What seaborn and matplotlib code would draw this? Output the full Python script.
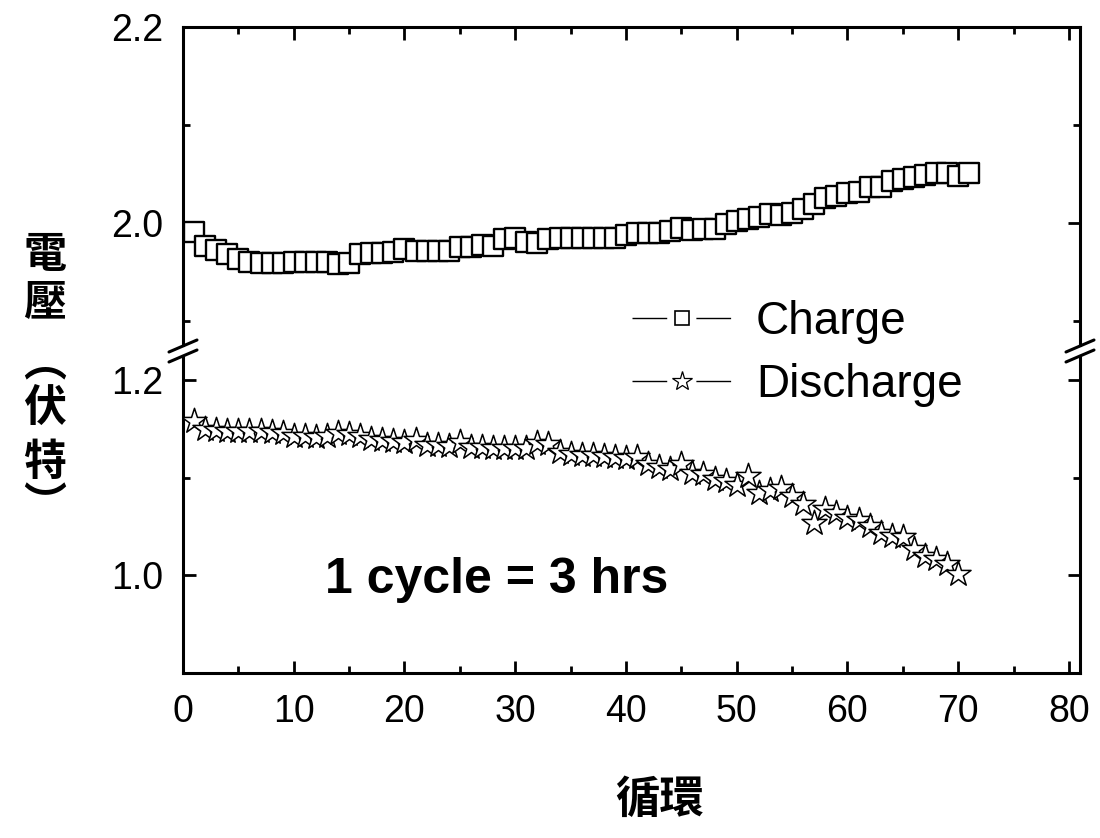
import numpy as np
import pandas as pd
import matplotlib
matplotlib.use("Agg")
import matplotlib.pyplot as plt
from matplotlib.lines import Line2D
from matplotlib.ticker import FixedLocator, MultipleLocator
import seaborn as sns

# ---------------- data ----------------
charge_cycles = list(range(1, 72))
charge_voltage = [
    1.991, 1.977, 1.972, 1.968, 1.963, 1.960, 1.959, 1.959, 1.959, 1.960,
    1.960, 1.960, 1.960, 1.958, 1.959, 1.968, 1.969, 1.969, 1.970, 1.973,
    1.971, 1.971, 1.971, 1.971, 1.975, 1.976, 1.978, 1.977, 1.984, 1.985,
    1.981, 1.980, 1.984, 1.985, 1.985, 1.985, 1.985, 1.985, 1.985, 1.988,
    1.990, 1.990, 1.990, 1.992, 1.995, 1.993, 1.994, 1.994, 1.999, 2.002,
    2.004, 2.006, 2.009, 2.008, 2.010, 2.014, 2.019, 2.025, 2.028, 2.031,
    2.032, 2.037, 2.037, 2.043, 2.045, 2.047, 2.049, 2.051, 2.051, 2.048,
    2.051,
]
discharge_cycles = list(range(1, 71))
discharge_voltage = [
    1.158, 1.150, 1.149, 1.148, 1.148, 1.148, 1.148, 1.147, 1.146, 1.143,
    1.143, 1.142, 1.143, 1.146, 1.145, 1.143, 1.140, 1.139, 1.138, 1.137,
    1.139, 1.134, 1.134, 1.133, 1.137, 1.132, 1.132, 1.131, 1.131, 1.131,
    1.131, 1.136, 1.135, 1.127, 1.125, 1.124, 1.123, 1.122, 1.121, 1.120,
    1.121, 1.114, 1.111, 1.109, 1.114, 1.105, 1.104, 1.099, 1.097, 1.093,
    1.102, 1.085, 1.088, 1.090, 1.081, 1.073, 1.054, 1.068, 1.064, 1.059,
    1.057, 1.051, 1.044, 1.040, 1.039, 1.027, 1.020, 1.017, 1.012, 1.001,
]
x_ticks = [0, 10, 20, 30, 40, 50, 60, 70, 80]
top_yticks = [2.0, 2.2]
bot_yticks = [1.0, 1.2]
series_labels = ["Charge", "Discharge"]
y_label_chars = ["電", "壓", "︵", "伏", "特", "︶"]
x_label = "循環"
note_text = "1 cycle = 3 hrs"

# ---------------- style ----------------
sns.set_style("ticks")
plt.rcParams["font.family"] = ["Liberation Sans", "Noto Sans CJK TC", "DejaVu Sans"]
plt.rcParams["text.color"] = "black"
plt.rcParams["axes.labelcolor"] = "black"
plt.rcParams["xtick.color"] = "black"
plt.rcParams["ytick.color"] = "black"
plt.rcParams["axes.edgecolor"] = "black"

W, H = 1100, 838
fig = plt.figure(figsize=(W / 100, H / 100), dpi=100)


def fx(px):
    return px / W


def fy(py):
    return 1 - py / H


L, R = 183, 1080
ax_top = fig.add_axes([fx(L), fy(345), fx(R) - fx(L), fy(27) - fy(345)])
ax_bot = fig.add_axes([fx(L), fy(673), fx(R) - fx(L), fy(356) - fy(673)])

df_c = pd.DataFrame({"cycle": charge_cycles, "V": charge_voltage})
df_d = pd.DataFrame({"cycle": discharge_cycles, "V": discharge_voltage})

sns.scatterplot(data=df_c, x="cycle", y="V", ax=ax_top, marker="s", s=190,
                color="white", edgecolor="black", linewidth=1.7, zorder=3,
                legend=False)
sns.scatterplot(data=df_d, x="cycle", y="V", ax=ax_bot, marker="*", s=360,
                color="white", edgecolor="black", linewidth=1.1, zorder=3,
                legend=False)

for ax in (ax_top, ax_bot):
    ax.set_xlim(0, 81)
    ax.set_xlabel("")
    ax.set_ylabel("")
    ax.xaxis.set_major_locator(FixedLocator(x_ticks))
    ax.xaxis.set_minor_locator(MultipleLocator(5))
    for s in ax.spines.values():
        s.set_linewidth(2.2)
        s.set_color("black")
    ax.tick_params(which="both", direction="in", width=2.0, color="black",
                   labelcolor="black", labelsize=27, right=True)
    ax.tick_params(which="major", length=9)
    ax.tick_params(which="minor", length=5)
    ax.tick_params(axis="y", pad=14)
    ax.tick_params(axis="x", pad=15)

ax_top.set_ylim(1.8755, 2.2)
ax_top.yaxis.set_major_locator(FixedLocator(top_yticks))
ax_top.yaxis.set_minor_locator(FixedLocator([1.9, 2.1]))
ax_top.spines["bottom"].set_visible(False)
ax_top.tick_params(axis="x", which="both", bottom=False, labelbottom=False, top=True)
ax_top.yaxis.set_major_formatter(plt.FuncFormatter(lambda v, p: f"{v:.1f}"))

ax_bot.set_ylim(0.9, 1.225)
ax_bot.yaxis.set_major_locator(FixedLocator(bot_yticks))
ax_bot.yaxis.set_minor_locator(FixedLocator([0.9, 1.1]))
ax_bot.spines["top"].set_visible(False)
ax_bot.tick_params(axis="x", which="both", top=False)
ax_bot.yaxis.set_major_formatter(plt.FuncFormatter(lambda v, p: f"{v:.1f}"))

# break marks
for xs in (L, R):
    for dy in (0, 10):
        fig.add_artist(Line2D([fx(xs - 14), fx(xs + 14)],
                              [fy(352 + dy), fy(340 + dy)],
                              transform=fig.transFigure, color="black", lw=2.2))

# annotation
ax_bot.text(12.8, 0.995, note_text, fontsize=36, fontweight="bold",
            ha="left", va="center", family=["Liberation Sans", "DejaVu Sans"])

# legend: line - marker - line with gaps round the marker
gap_style = (0, (25, 21, 25, 200))
handles = [
    Line2D([], [], color="black", lw=1.0, ls=gap_style, marker="s", markersize=10,
           markerfacecolor="white", markeredgecolor="black", markeredgewidth=1.2),
    Line2D([], [], color="black", lw=1.0, ls=gap_style, marker="*", markersize=15,
           markerfacecolor="white", markeredgecolor="black", markeredgewidth=0.9),
]
fig.legend(handles, series_labels, loc="upper left",
           bbox_to_anchor=(fx(632), fy(300)), frameon=False, fontsize=33,
           handlelength=2.2, handletextpad=0.5, labelspacing=0.42,
           borderpad=0, borderaxespad=0, numpoints=1)

# y label (vertical characters)
cjk = ["Noto Sans CJK TC", "DejaVu Sans"]
ys = [255, 303, 362, 408, 462, 505]
for ch, yy in zip(y_label_chars, ys):
    fig.text(fx(45), fy(yy), ch, fontsize=31, fontweight="bold",
             ha="center", va="center", family=cjk)

# x label
fig.text(fx(660), fy(800), x_label, fontsize=32, fontweight="bold",
         ha="center", va="center", family=cjk)

fig.savefig("out.png", dpi=100, facecolor="white")
